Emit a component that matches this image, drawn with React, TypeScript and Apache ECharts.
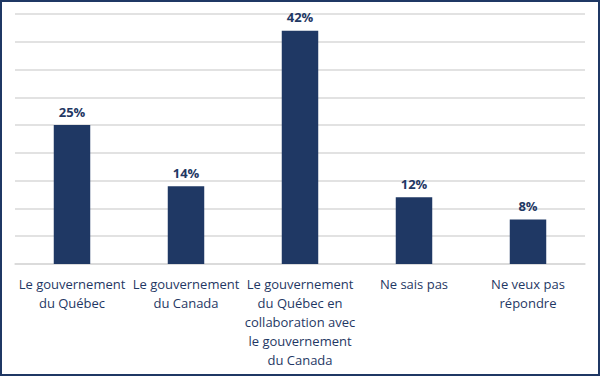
import React, { useEffect, useRef } from "react";
import * as echarts from "echarts";

const categories = [
  "Le gouvernement\ndu Québec",
  "Le gouvernement\ndu Canada",
  "Le gouvernement\ndu Québec en\ncollaboration avec\nle gouvernement\ndu Canada",
  "Ne sais pas",
  "Ne veux pas\nrépondre",
];
const values = [25, 14, 42, 12, 8];

export default function App() {
  const ref = useRef<HTMLDivElement>(null);
  useEffect(() => {
    document.body.style.margin = "0";
    const chart = echarts.init(ref.current!, null, { renderer: "svg" });
    chart.setOption({
      animation: false,
      backgroundColor: "#ffffff",
      grid: { left: 13, right: 13, top: 12, bottom: 110, containLabel: false },
      xAxis: {
        type: "category",
        data: categories,
        axisTick: { show: false },
        axisLine: { show: true, lineStyle: { color: "#d9d9d9", width: 1.5 } },
        axisLabel: {
          interval: 0,
          color: "#1f3864",
          fontFamily: "Open Sans",
          fontSize: 13,
          lineHeight: 19,
          margin: 10,
        },
      },
      yAxis: {
        type: "value",
        min: 0,
        max: 45,
        interval: 5,
        axisLabel: { show: false },
        axisLine: { show: false },
        axisTick: { show: false },
        splitLine: { lineStyle: { color: "#d9d9d9", width: 1.5 } },
      },
      series: [
        {
          type: "bar",
          data: values,
          barWidth: "32%",
          itemStyle: { color: "#1f3864" },
          label: {
            show: true,
            position: "top",
            distance: 7,
            formatter: "{c}%",
            color: "#1f3864",
            fontFamily: "Open Sans",
            fontWeight: "bold",
            fontSize: 13,
          },
        },
      ],
    });
    return () => chart.dispose();
  }, []);
  return (
    <div
      style={{
        position: "absolute",
        left: 0,
        top: 0,
        width: 600,
        height: 376,
        boxSizing: "border-box",
        border: "2px solid #1f3864",
        background: "#fff",
      }}
    >
      <div ref={ref} style={{ width: 596, height: 372 }} />
    </div>
  );
}
